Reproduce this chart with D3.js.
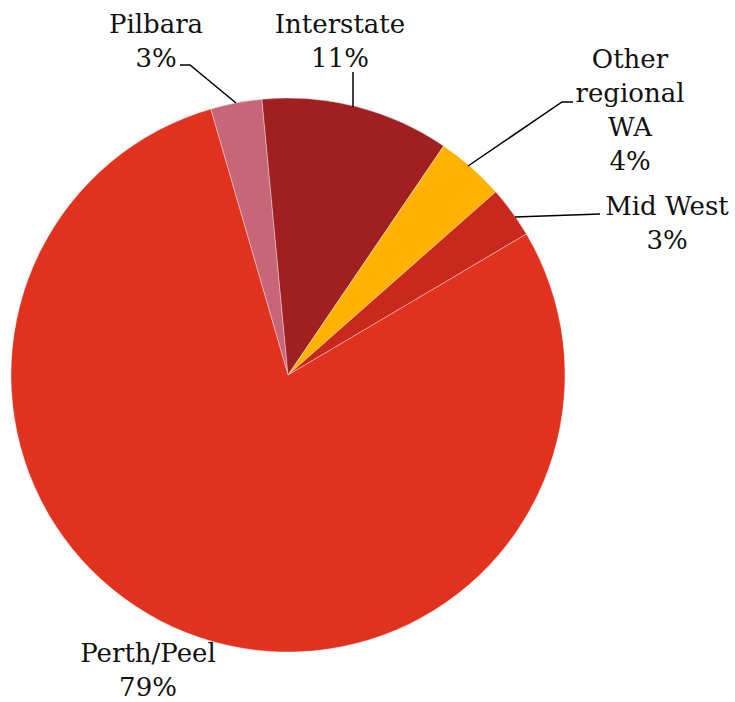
<!DOCTYPE html>
<html>
<head>
<meta charset="utf-8">
<script src="https://cdn.jsdelivr.net/npm/d3@7/dist/d3.min.js"></script>
<style>
  html, body { margin: 0; padding: 0; background: #fff; }
  svg text { font-family: "DejaVu Serif", Georgia, serif; fill: #111; }
</style>
</head>
<body>
<svg id="chart" width="735" height="702"></svg>
<script>
// Share of residents by region (percent)
const regions = ["Pilbara", "Interstate", "Other regional WA", "Mid West", "Perth/Peel"];
const shares = [3, 11, 4, 3, 79];
const colors = ["#C66676", "#A01F21", "#FFB300", "#C9291C", "#E0321F"];

// Label lines, leader line points
const labelLines = [
  ["Pilbara", "3%"],
  ["Interstate", "11%"],
  ["Other", "regional", "WA", "4%"],
  ["Mid West", "3%"],
  ["Perth/Peel", "79%"]
];
const labelPos = [[156, 33], [340, 33], [630, 68], [667, 215], [148, 662]];
const leaders = [
  [[180, 65], [190, 65], [236, 103]],
  [[353, 72], [353, 107]],
  [[573, 102], [562, 102], [468, 166]],
  [[600, 214], [515, 217]],
  null
];

const svg = d3.select("#chart");
const cx = 288, cy = 375, r = 277;
const startDeg = -16.2;

const pie = d3.pie().sort(null).value(d => d)
  .startAngle(startDeg * Math.PI / 180)
  .endAngle((startDeg + 360) * Math.PI / 180);
const arc = d3.arc().innerRadius(0).outerRadius(r);

const g = svg.append("g").attr("transform", `translate(${cx},${cy})`);
g.selectAll("path")
  .data(pie(shares))
  .join("path")
  .attr("d", arc)
  .attr("fill", (d, i) => colors[i])
  .attr("stroke", "#ffffff")
  .attr("stroke-opacity", 0.45)
  .attr("stroke-width", 0.8);

// Leader lines
const line = d3.line();
svg.selectAll("path.leader")
  .data(leaders.filter(l => l))
  .join("path")
  .attr("class", "leader")
  .attr("d", line)
  .attr("fill", "none")
  .attr("stroke", "#000")
  .attr("stroke-width", 1.5);

// Labels
const lineH = 34;
labelLines.forEach((lines, i) => {
  const t = svg.append("text")
    .attr("x", labelPos[i][0])
    .attr("y", labelPos[i][1])
    .attr("text-anchor", "middle")
    .attr("font-size", 26);
  lines.forEach((s, j) => {
    t.append("tspan")
      .attr("x", labelPos[i][0])
      .attr("dy", j === 0 ? 0 : lineH)
      .text(s);
  });
});
</script>
</body>
</html>
